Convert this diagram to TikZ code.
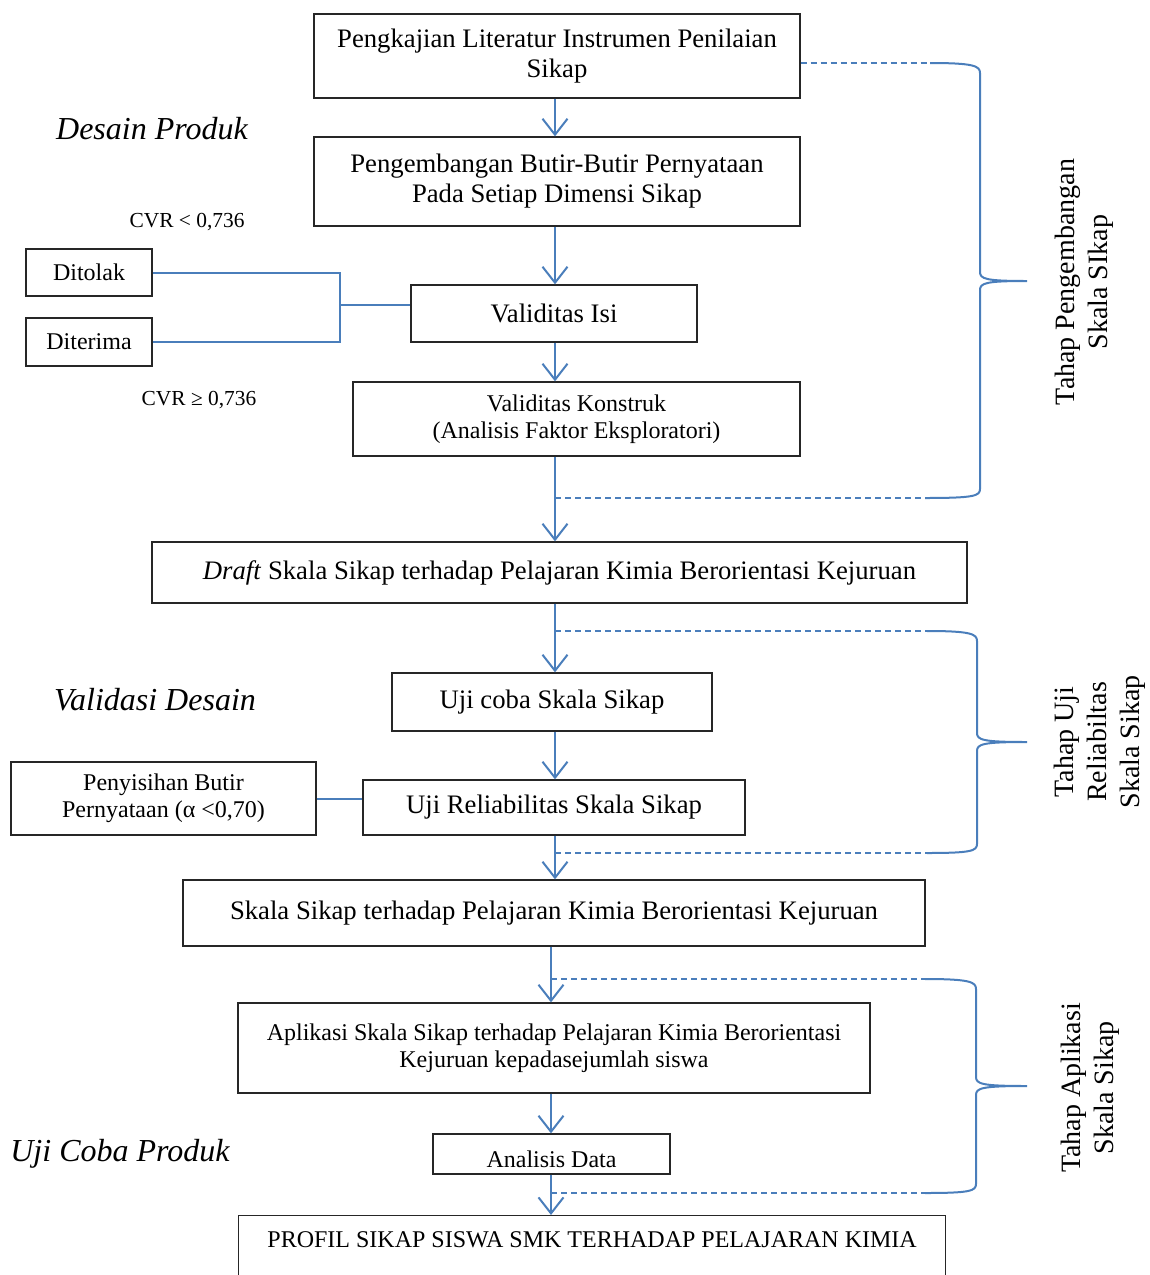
\documentclass[tikz,border=0pt]{standalone}
\usepackage{fontspec}
\setmainfont{Liberation Serif}
\usetikzlibrary{arrows.meta}
\definecolor{garisbiru}{RGB}{74,126,187}
\tikzset{
  kotak/.style={draw=black!85, line width=1.3pt, inner sep=0pt, align=center,
    font=\fontsize{26.7}{30}\selectfont},
  kecil/.style={font=\fontsize{24}{27.5}\selectfont},
  panah/.style={draw=garisbiru, line width=2pt, -{Straight Barb[length=16pt,width=25pt]}},
  garis/.style={draw=garisbiru, line width=2pt},
  putus/.style={draw=garisbiru, line width=1.6pt, dash pattern=on 6pt off 4pt},
  kurung/.style={draw=garisbiru, line width=2pt},
  tahap/.style={rotate=90, align=center, font=\fontsize{28}{33}\selectfont},
  judul/.style={font=\fontsize{32}{36}\selectfont\itshape},
  cvr/.style={font=\fontsize{21.4}{24}\selectfont}
}
\begin{document}
\begin{tikzpicture}[x=1pt,y=-1pt]
  \useasboundingbox (0,0) rectangle (1150,1275);
  % kotak alur utama
  \node[kotak, minimum width=486pt, minimum height=84pt] (kajian) at (557,56)
    {Pengkajian Literatur Instrumen Penilaian\\Sikap};
  \node[kotak, minimum width=486pt, minimum height=89pt] (butir) at (557,181.5)
    {Pengembangan Butir-Butir Pernyataan\\Pada Setiap Dimensi Sikap};
  \node[kotak, minimum width=286pt, minimum height=57pt] (isi) at (554,313.5) {Validitas Isi};
  \node[kotak, kecil, minimum width=447pt, minimum height=74pt] (konstruk) at (576.5,419)
    {Validitas Konstruk\\(Analisis Faktor Eksploratori)};
  \node[kotak, minimum width=815pt, minimum height=61pt] (draft) at (559.5,572.5)
    {\textit{Draft} Skala Sikap terhadap Pelajaran Kimia Berorientasi Kejuruan};
  \node[kotak, minimum width=320pt, minimum height=58pt] (ujicoba) at (552,702) {Uji coba Skala Sikap};
  \node[kotak, minimum width=382pt, minimum height=55pt] (reliabel) at (554,807.5) {Uji Reliabilitas Skala Sikap};
  \node[kotak, minimum width=742pt, minimum height=66pt] (skala) at (554,913)
    {Skala Sikap terhadap Pelajaran Kimia Berorientasi Kejuruan};
  \node[kotak, kecil, minimum width=632pt, minimum height=90pt] (aplikasi) at (554,1048)
    {Aplikasi Skala Sikap terhadap Pelajaran Kimia Berorientasi\\Kejuruan kepadasejumlah siswa};
  \node[kotak, kecil, minimum width=237pt, minimum height=40pt, text height=26pt, text depth=0pt] (analisis)
    at (551.5,1154) {Analisis Data};
  \node[kotak, kecil, anchor=north west, minimum width=707pt, text height=32pt, text depth=60pt] (profil)
    at (238,1215) {PROFIL SIKAP SISWA SMK TERHADAP PELAJARAN KIMIA};
  % kotak samping
  \node[kotak, kecil, minimum width=126pt, minimum height=47pt] (tolak) at (89,272.5) {Ditolak};
  \node[kotak, kecil, minimum width=126pt, minimum height=48pt] (terima) at (89,342) {Diterima};
  \node[kotak, kecil, minimum width=305pt, minimum height=73pt] (sisih) at (163.5,798.5)
    {Penyisihan Butir\\Pernyataan (α <0,70)};
  % label
  \node[cvr] (cvrtolak) at (187,222) {CVR < 0,736};
  \node[cvr] (cvrterima) at (199,400) {CVR ≥ 0,736};
  \node[judul] (desain) at (152,129) {Desain Produk};
  \node[judul] (validasi) at (155,700) {Validasi Desain};
  \node[judul] (ujiproduk) at (120,1154) {Uji Coba Produk};
  \node[tahap] (tahap1) at (1084,282) {Tahap Pengembangan\\Skala SIkap};
  \node[tahap] (tahap2) at (1100,742) {Tahap Uji\\Reliabiltas\\Skala Sikap};
  \node[tahap] (tahap3) at (1090,1088) {Tahap Aplikasi\\Skala Sikap};
  % titik bantu
  \coordinate (kol) at (555,0);
  \coordinate (kol2) at (551,0);
  \coordinate (sambung) at (340,305);
  \coordinate (k1a) at (930,63);
  \coordinate (k1b) at (925,498);
  \coordinate (k2a) at (927,631);
  \coordinate (k2b) at (927,853);
  \coordinate (k3a) at (925,979);
  \coordinate (k3b) at (925,1193);
  \begin{scope}[panah]
    \draw (kajian.south -| kol) to (butir.north -| kol);
    \draw (butir.south -| kol) to (isi.north -| kol);
    \draw (isi.south -| kol) to (konstruk.north -| kol);
    \draw (konstruk.south -| kol) to (draft.north -| kol);
    \draw (draft.south -| kol) to (ujicoba.north -| kol);
    \draw (ujicoba.south -| kol) to (reliabel.north -| kol);
    \draw (reliabel.south -| kol) to (skala.north -| kol);
    \draw (skala.south -| kol2) to (aplikasi.north -| kol2);
    \draw (aplikasi.south -| kol2) to (analisis.north -| kol2);
    \draw (analisis.south -| kol2) to (profil.north -| kol2);
  \end{scope}
  \begin{scope}[garis]
    \draw (tolak.east) -| (sambung);
    \draw (terima.east) -| (sambung);
    \draw (sambung) -- (sambung -| isi.west);
    \draw (sisih.east) -- (sisih.east -| reliabel.west);
  \end{scope}
  \begin{scope}[putus]
    \draw (kajian.east |- k1a) -- (k1a);
    \draw (kol |- k1b) -- (k1b);
    \draw (kol |- k2a) -- (k2a);
    \draw (kol |- k2b) -- (k2b);
    \draw (kol2 |- k3a) -- (k3a);
    \draw (kol2 |- k3b) -- (k3b);
  \end{scope}
  % kurung kurawal
  \draw[kurung] (k1a) .. controls (974,63) and (980,66) .. (980,73) -- (980,272)
    .. controls (980,279) and (986,281) .. (1027,281)
    .. controls (986,281) and (980,283) .. (980,290) -- (980,489)
    .. controls (980,496) and (974,498) .. (k1b);
  \draw[kurung] (k2a) .. controls (971,631) and (977,634) .. (977,641) -- (977,733)
    .. controls (977,740) and (983,742) .. (1027,742)
    .. controls (983,742) and (977,744) .. (977,751) -- (977,844)
    .. controls (977,851) and (971,853) .. (k2b);
  \draw[kurung] (k3a) .. controls (970,979) and (976,982) .. (976,989) -- (976,1077)
    .. controls (976,1084) and (982,1086) .. (1027,1086)
    .. controls (982,1086) and (976,1088) .. (976,1095) -- (976,1184)
    .. controls (976,1191) and (970,1193) .. (k3b);
\end{tikzpicture}
\end{document}
